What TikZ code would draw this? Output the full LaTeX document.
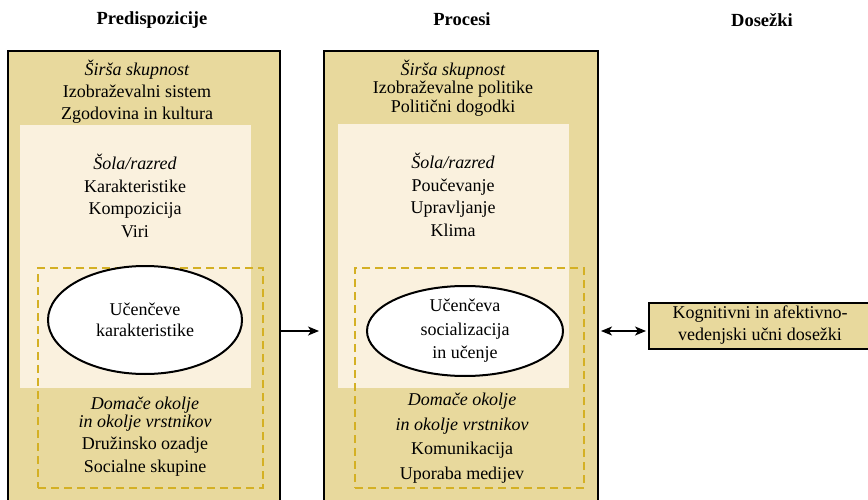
\documentclass[tikz,border=0pt]{standalone}
\usepackage{fontspec}
\setmainfont{Liberation Serif}
\usetikzlibrary{arrows.meta,shapes.geometric}
\definecolor{khaki}{HTML}{E8D99D}
\definecolor{cream}{HTML}{FAF1DE}
\definecolor{gold}{HTML}{D4B024}
\tikzset{
  outerbox/.style={draw=black,line width=2pt,fill=khaki,rectangle,anchor=north west,inner sep=0pt},
  innerbox/.style={fill=cream,rectangle,anchor=north west,inner sep=0pt},
  dashbox/.style={draw=gold,line width=2pt,dash pattern=on 8pt off 5pt,rectangle,anchor=north west,inner sep=0pt},
  oval/.style={ellipse,draw=black,line width=2pt,fill=white,inner sep=0pt},
  txt/.style={align=center,font=\fontsize{18}{22}\selectfont,inner sep=0pt},
  head/.style={font=\fontsize{18.5}{20}\selectfont\bfseries,inner sep=0pt},
  arr/.style={line width=1.8pt,-{Stealth[length=11pt,width=9pt,inset=3pt]}},
  darr/.style={line width=1.8pt,{Stealth[length=11pt,width=9pt,inset=3pt]}-{Stealth[length=11pt,width=9pt,inset=3pt]}},
}
\begin{document}
\begin{tikzpicture}[x=1pt,y=-1pt]
\clip (0,0) rectangle (868,500);
\fill[white] (0,0) rectangle (868,500);
% headers
\node[head] (h1) at (152,20) {Predispozicije};
\node[head] (h2) at (462,19) {Procesi};
\node[head] (h3) at (762,20) {Dosežki};
% left column
\node[outerbox,minimum width=272pt,minimum height=470pt] (lbox) at (7,50) {};
\node[innerbox,minimum width=231pt,minimum height=263pt] (lin) at (20,125) {};
\node[dashbox,minimum width=225pt,minimum height=220pt] (ldash) at (37,267) {};
\node[oval,minimum width=194pt,minimum height=108pt] (lell) at (145,320) {};
\node[txt] (lt1) at (137,92) {\textit{Širša skupnost}\\Izobraževalni sistem\\Zgodovina in kultura};
\node[txt,font=\fontsize{18}{22.4}\selectfont] (lt2) at (135,196) {\textit{Šola/razred}\\Karakteristike\\Kompozicija\\Viri};
\node[txt,font=\fontsize{18}{21}\selectfont] (lt3) at (lell) {Učenčeve\\karakteristike};
\node[txt] (lt4) at (145,437) {\textit{Domače okolje}\\[-4pt]\textit{in okolje vrstnikov}\\Družinsko ozadje\\[1pt]Socialne skupine};
% middle column
\node[outerbox,minimum width=274pt,minimum height=470pt] (mbox) at (323,50) {};
\node[innerbox,minimum width=231pt,minimum height=264pt] (min) at (338,124) {};
\node[dashbox,minimum width=229pt,minimum height=220pt] (mdash) at (354,267) {};
\node[oval,minimum width=196pt,minimum height=90pt] (mell) at (465,331) {};
\node[txt,font=\fontsize{18}{18.5}\selectfont] (mt1) at (453,88) {\textit{Širša skupnost}\\Izobraževalne politike\\Politični dogodki};
\node[txt,font=\fontsize{18}{22.7}\selectfont] (mt2) at (453,195) {\textit{Šola/razred}\\Poučevanje\\Upravljanje\\Klima};
\node[txt,font=\fontsize{18}{23.5}\selectfont] (mt3) at (mell) {Učenčeva\\socializacija\\in učenje};
\node[txt,font=\fontsize{18}{24.5}\selectfont] (mt4) at (462,438) {\textit{Domače okolje}\\\textit{in okolje vrstnikov}\\Komunikacija\\Uporaba medijev};
% outcome
\node[outerbox,minimum width=230pt,minimum height=46pt] (out) at (648,302) {};
\node[txt,font=\fontsize{18}{22}\selectfont] (ot) at (760,325) {Kognitivni in afektivno-\\vedenjski učni dosežki};
% connectors
\draw[arr] (lbox.east |- mell.center) -- ([xshift=-4pt]mbox.west |- mell.center);
\draw[darr] ([xshift=2pt]mbox.east |- mell.center) -- ([xshift=-2pt]out.west |- mell.center);
\end{tikzpicture}
\end{document}
